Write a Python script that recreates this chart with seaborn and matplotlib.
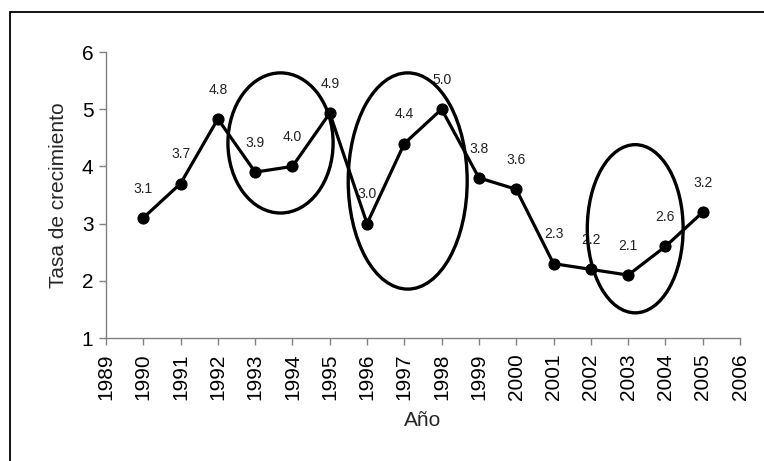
import matplotlib
matplotlib.use("Agg")
import matplotlib.pyplot as plt
import seaborn as sns
import pandas as pd
from matplotlib.patches import Ellipse, Rectangle

years = [1990, 1991, 1992, 1993, 1994, 1995, 1996, 1997, 1998, 1999, 2000, 2001, 2002, 2003, 2004, 2005]
rates = [3.1, 3.7, 4.83, 3.9, 4.0, 4.93, 3.0, 4.4, 5.0, 3.8, 3.6, 2.3, 2.2, 2.1, 2.6, 3.2]
labels = ["3.1", "3.7", "4.8", "3.9", "4.0", "4.9", "3.0", "4.4", "5.0", "3.8", "3.6", "2.3", "2.2", "2.1", "2.6", "3.2"]
x_ticks = list(range(1989, 2007))
y_ticks = [1, 2, 3, 4, 5, 6]
# ellipses: (center year, center value, width in years, height in value units)
ellipses = [(1993.68, 4.41, 2.82, 2.45), (1997.09, 3.745, 3.19, 3.78), (2003.19, 2.91, 2.57, 2.94)]

sns.set_theme(style="white")
plt.rcParams['font.family'] = ['Liberation Sans', 'DejaVu Sans']

df = pd.DataFrame({"Año": years, "Tasa de crecimiento": rates})

fig = plt.figure(figsize=(7.64, 4.61), dpi=100)
ax = fig.add_axes([0.1387, 0.2668, 0.8299, 0.6204])

sns.lineplot(data=df, x="Año", y="Tasa de crecimiento", ax=ax, color="black",
             linewidth=2.3, marker="o", markersize=8, markeredgecolor="black")

for x, y, t in zip(years, rates, labels):
    ax.annotate(t, (x, y), xytext=(0, 21), textcoords="offset points",
                ha="center", va="center", fontsize=10, color="#222222")

for cx, cy, w, h in ellipses:
    ax.add_patch(Ellipse((cx, cy), w, h, fill=False, edgecolor="black", linewidth=2.4, zorder=3))

ax.set_xlim(1989, 2006)
ax.set_ylim(1, 6)
ax.set_xticks(x_ticks)
ax.set_xticklabels([str(v) for v in x_ticks], rotation=90)
ax.set_yticks(y_ticks)
ax.tick_params(axis="both", which="both", direction="out", length=5, width=1,
               color="#808080", labelsize=15, labelcolor="black")
ax.tick_params(axis="x", pad=6, bottom=True)
ax.tick_params(axis="y", pad=4, left=True)
ax.set_xlabel("Año", fontsize=15, labelpad=8)
ax.set_ylabel("Tasa de crecimiento", fontsize=15, labelpad=10)
for side in ["top", "right"]:
    ax.spines[side].set_visible(False)
for side in ["left", "bottom"]:
    ax.spines[side].set_color("#808080")
    ax.spines[side].set_linewidth(1)

fig.patches.append(Rectangle((10 / 764, -0.1), 1.2, 1 - 12 / 461 + 0.1, transform=fig.transFigure,
                             fill=False, edgecolor="black", linewidth=1.3))

fig.savefig("out.png", dpi=100)
